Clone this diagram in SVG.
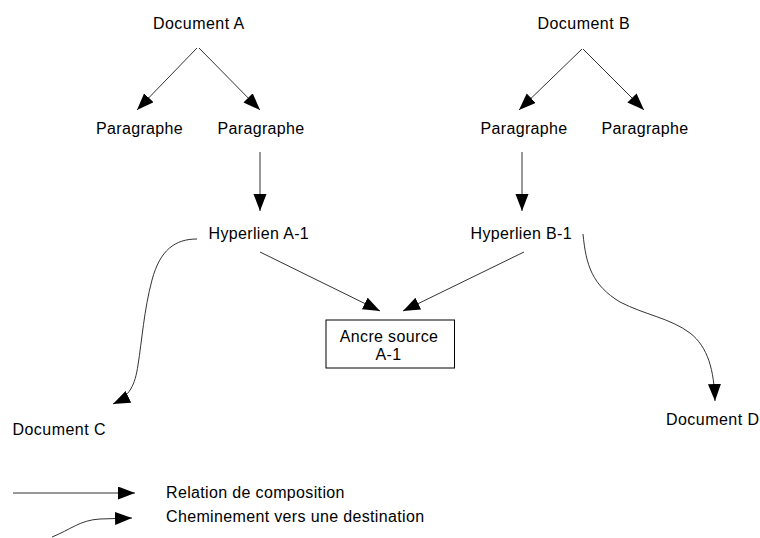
<svg xmlns="http://www.w3.org/2000/svg" width="760" height="538" viewBox="0 0 760 538">
  <style>
    text { font-family: "Liberation Sans", Arial, sans-serif; font-size: 16px; letter-spacing: 0.35px; fill: #000; }
    .doc { letter-spacing: 0.45px; }
    .link { fill: none; stroke: #333; stroke-width: 1; }
    .box { fill: #fff; stroke: #000; stroke-width: 1; }
  </style>
  <defs>
    <marker id="head" markerUnits="userSpaceOnUse" markerWidth="18" markerHeight="14" refX="17" refY="6.5" orient="auto">
      <path d="M0,0 L17,6.5 L0,13 z" fill="#000"/>
    </marker>
  </defs>
  <rect width="760" height="538" fill="#fff"/>

  <!-- connectors -->
  <g id="connectors">
    <path class="link" d="M197,48 L137,110" marker-end="url(#head)"/>
    <path class="link" d="M199,48 L260,110" marker-end="url(#head)"/>
    <path class="link" d="M582,49 L519,110" marker-end="url(#head)"/>
    <path class="link" d="M583,49 L644,110" marker-end="url(#head)"/>
    <path class="link" d="M260,152 L260,211" marker-end="url(#head)"/>
    <path class="link" d="M522,152 L522,211" marker-end="url(#head)"/>
    <path class="link" d="M260,252 L380,311" marker-end="url(#head)"/>
    <path class="link" d="M524,252 L403,311" marker-end="url(#head)"/>
    <path class="link" d="M197,239 C175,239 160,250 152,280 C144,310 142,340 138,365 C135,385 130,396 113,404" marker-end="url(#head)"/>
    <path class="link" d="M583,234 C586,265 592,285 620,302 C645,315 670,318 690,333 C708,347 714,370 715,401" marker-end="url(#head)"/>
  </g>

  <!-- nodes -->
  <g id="doc-a"><text class="doc" x="153" y="29">Document A</text></g>
  <g id="doc-b"><text class="doc" x="537.5" y="29">Document B</text></g>
  <g id="para-a1"><text x="96" y="134">Paragraphe</text></g>
  <g id="para-a2"><text x="217.5" y="134">Paragraphe</text></g>
  <g id="para-b1"><text x="480.5" y="134">Paragraphe</text></g>
  <g id="para-b2"><text x="601.5" y="134">Paragraphe</text></g>
  <g id="hyper-a1"><text x="208.5" y="238.5">Hyperlien A-1</text></g>
  <g id="hyper-b1"><text x="470.5" y="238.5">Hyperlien B-1</text></g>
  <g id="anchor">
    <rect class="box" x="326" y="320" width="128.5" height="48"/>
    <text x="389" y="341.5" text-anchor="middle">Ancre source</text>
    <text x="388.5" y="359.5" text-anchor="middle">A-1</text>
  </g>
  <g id="doc-c"><text class="doc" x="12.5" y="435">Document C</text></g>
  <g id="doc-d"><text class="doc" x="666" y="425">Document D</text></g>

  <!-- legend -->
  <g id="legend">
    <path class="link" d="M13,493 L135,493" marker-end="url(#head)"/>
    <path class="link" d="M52,537 C70,530 80,520 100,519 L132,518" marker-end="url(#head)"/>
    <text x="166" y="497.5">Relation de composition</text>
    <text x="166" y="521.5">Cheminement vers une destination</text>
  </g>
</svg>
